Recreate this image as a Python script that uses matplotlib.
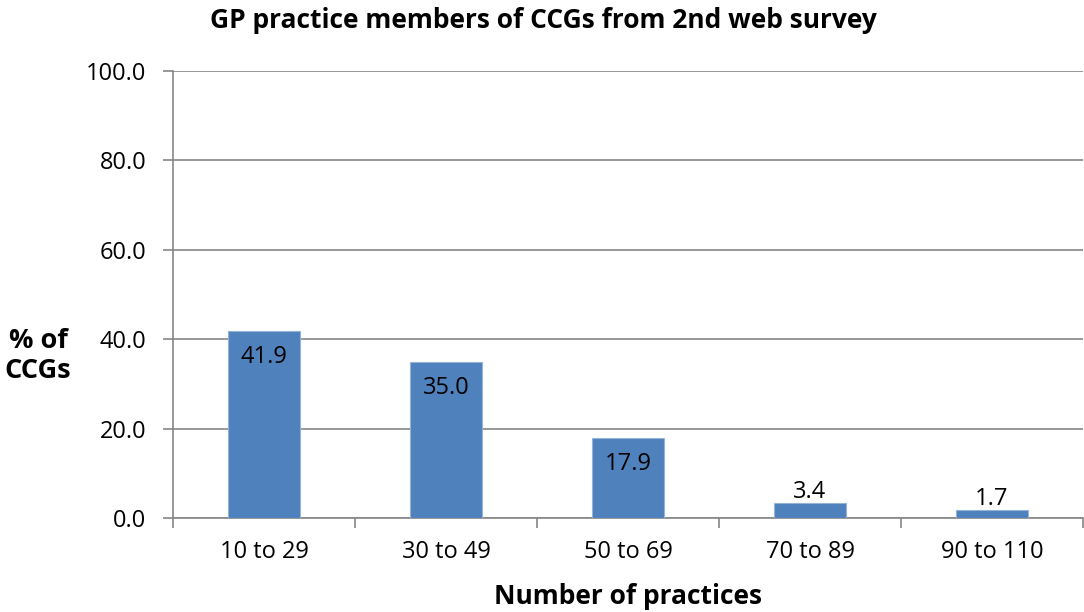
import matplotlib.pyplot as plt

categories = ["10 to 29", "30 to 49", "50 to 69", "70 to 89", "90 to 110"]
values = [41.9, 35.0, 17.9, 3.4, 1.7]
yticks = [0, 20, 40, 60, 80, 100]

plt.rcParams['font.family'] = ['Open Sans', 'DejaVu Sans']

fig = plt.figure(figsize=(10.84, 6.12), dpi=100)
ax = fig.add_axes([173 / 1084, 1 - 518 / 612, (1083 - 173) / 1084, (518 - 71) / 612])

grid_col = "#868686"
x = range(len(categories))
ax.bar(x, values, width=0.4, color="#4F81BD", edgecolor="#95B3D7", linewidth=0.8, zorder=3)

for i, v in enumerate(values):
    if v > 10:
        ax.annotate(f"{v:.1f}", (i, v), xytext=(0, -19), textcoords="offset points",
                    ha="center", va="center", fontsize=17, color="black", zorder=4)
    else:
        ax.annotate(f"{v:.1f}", (i, v), xytext=(0, 8), textcoords="offset points",
                    ha="center", va="center", fontsize=17, color="black", zorder=4)

ax.set_xlim(-0.5, len(categories) - 0.5)
ax.set_ylim(0, 100)
ax.set_yticks(yticks)
ax.set_yticklabels([f"{t:.1f}" for t in yticks], fontsize=17)
ax.yaxis.grid(True, color=grid_col, linewidth=1.2, zorder=0)

# category labels between boundary ticks
ax.set_xticks([i - 0.5 for i in range(len(categories) + 1)])
ax.set_xticklabels([])
ax.set_xticks(list(x), minor=True)
ax.set_xticklabels(categories, minor=True, fontsize=17)
ax.tick_params(axis="x", which="minor", length=0, pad=16)
ax.tick_params(axis="x", which="major", length=7, color=grid_col, width=1.2)
ax.tick_params(axis="y", length=7, color=grid_col, width=1.2, pad=12)

for s in ["top", "right"]:
    ax.spines[s].set_visible(False)
for s in ["left", "bottom"]:
    ax.spines[s].set_color(grid_col)
    ax.spines[s].set_linewidth(1.2)

fig.text(543 / 1084, 1 - 20 / 612, "GP practice members of CCGs from 2nd web survey",
         ha="center", va="center", fontsize=19, fontweight="bold")
fig.text(628 / 1084, 1 - 596 / 612, "Number of practices",
         ha="center", va="center", fontsize=19, fontweight="bold")
fig.text(38 / 1084, 1 - 356 / 612, "% of\nCCGs",
         ha="center", va="center", fontsize=19.5, fontweight="bold", linespacing=1.25)

fig.savefig("out.png", dpi=100)
